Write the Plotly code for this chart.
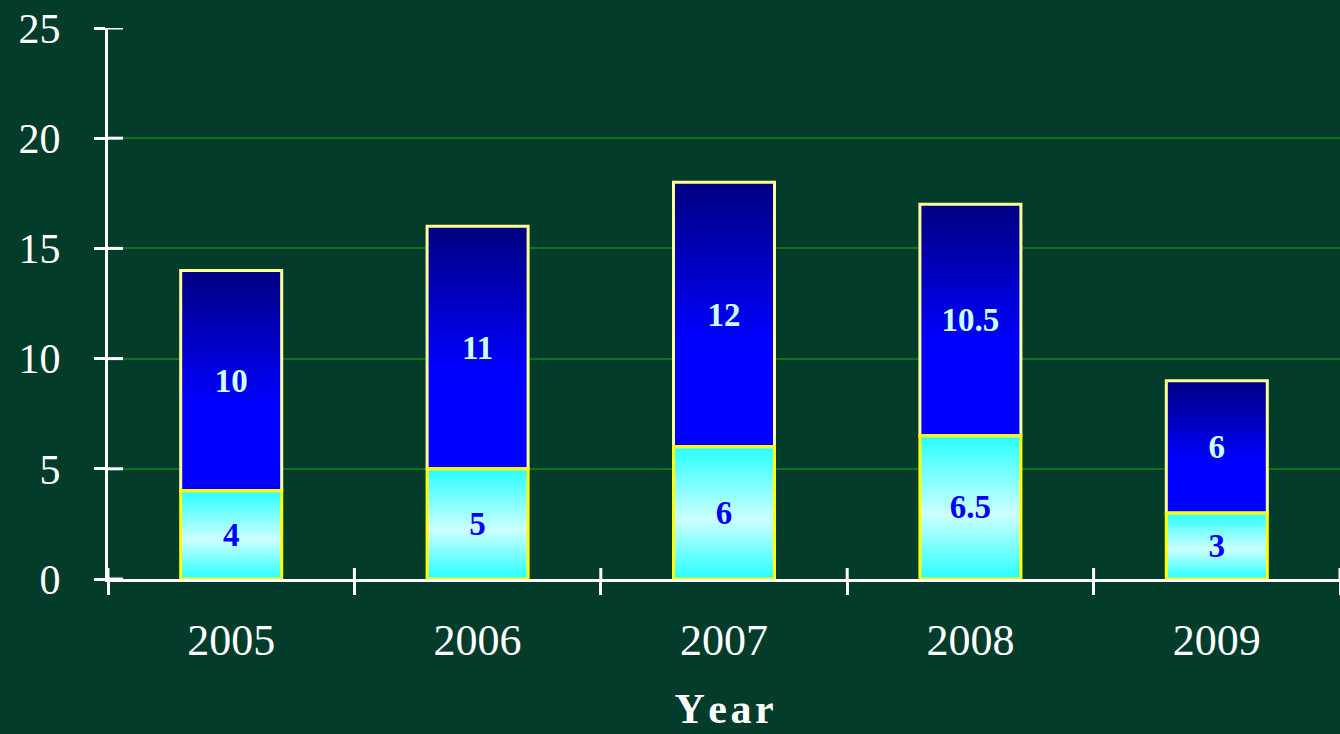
import plotly.graph_objects as go

# data
years = ['2005', '2006', '2007', '2008', '2009']
lower = [4, 5, 6, 6.5, 3]
upper = [10, 11, 12, 10.5, 6]
y_ticks = [0, 5, 10, 15, 20, 25]

BG = '#033c2a'
GRID = '#0a741a'
FONT = 'Liberation Serif'
N = 40  # slices used to fake the vertical gradient
BAR_W = 0.41

CYAN = (40, 255, 255)
PALE = (205, 255, 255)
BLUE = (0, 0, 255)
NAVY = (0, 0, 128)


def mix(c1, c2, f):
    return 'rgb(%d,%d,%d)' % tuple(round(a + (b - a) * f) for a, b in zip(c1, c2))


def lower_colour(t):
    # cyan at both ends, pale in the middle
    if t < 0.45:
        return mix(CYAN, PALE, t / 0.45)
    return mix(PALE, CYAN, (t - 0.45) / 0.55)


def upper_colour(t):
    # plain blue at the bottom fading to navy at the top
    if t < 0.4:
        return mix(BLUE, BLUE, 0)
    return mix(BLUE, NAVY, (t - 0.4) / 0.6)


fig = go.Figure()

# gradient slices, each running from its own base to the top of the segment
for bottoms, values, colour in [([0] * len(lower), lower, lower_colour),
                                (lower, upper, upper_colour)]:
    for k in range(N):
        t = (k + 0.5) / N
        fig.add_trace(go.Bar(
            x=years,
            y=[v * (1 - k / N) for v in values],
            base=[b + v * k / N for b, v in zip(bottoms, values)],
            width=BAR_W,
            marker=dict(color=colour(t), line=dict(width=0)),
            hoverinfo='skip',
            showlegend=False,
        ))

# outlines and labels
fig.add_trace(go.Bar(
    x=years, y=upper, base=lower, width=BAR_W,
    marker=dict(color='rgba(0,0,0,0)', line=dict(color='#ffff99', width=3)),
    text=[f'{v:g}' for v in upper],
    textposition='inside', insidetextanchor='middle', textangle=0,
    constraintext='none',
    textfont=dict(family=FONT, size=33, color='#ccffff', weight='bold'),
    showlegend=False,
))
fig.add_trace(go.Bar(
    x=years, y=lower, base=0, width=BAR_W,
    marker=dict(color='rgba(0,0,0,0)', line=dict(color='#ffff00', width=3)),
    text=[f'{v:g}' for v in lower],
    textposition='inside', insidetextanchor='middle', textangle=0,
    constraintext='none',
    textfont=dict(family=FONT, size=33, color='#0000ff', weight='bold'),
    showlegend=False,
))

# inner halves of the tick marks, so they cross the axis lines
tick_line = dict(color='white', width=3)
for v in y_ticks:
    fig.add_shape(type='line', xref='paper', yref='y', xsizemode='pixel',
                  xanchor=0, x0=0, x1=15, y0=v, y1=v, line=tick_line)
for i in range(len(years) + 1):
    fig.add_shape(type='line', xref='x', yref='y', ysizemode='pixel',
                  yanchor=0, y0=0, y1=11, x0=i - 0.5, x1=i - 0.5, line=tick_line)

fig.update_layout(
    width=1340, height=734,
    paper_bgcolor=BG, plot_bgcolor=BG,
    barmode='overlay',
    margin=dict(l=108, r=0, t=28, b=155),
    font=dict(family=FONT, color='white'),
    xaxis=dict(
        type='category', range=[-0.5, 4.5],
        showline=True, linecolor='white', linewidth=3,
        ticks='outside', tickson='boundaries', ticklen=13, tickwidth=3, tickcolor='white',
        tickfont=dict(size=44, color='white'),
        ticklabelstandoff=20,
        showgrid=False,
        title=dict(text='Y\u200ae\u200aa\u200ar',
                   font=dict(size=42, color='white', weight='bold'), standoff=30),
    ),
    yaxis=dict(
        range=[0, 25], tickvals=y_ticks,
        showline=True, linecolor='white', linewidth=3,
        ticks='outside', ticklen=11, tickwidth=3, tickcolor='white',
        tickfont=dict(size=42, color='white'),
        ticklabelstandoff=25,
        gridcolor=GRID, gridwidth=1.5, zeroline=False,
    ),
)

fig.write_html('out.html',
               config={'displayModeBar': False},
               post_script="document.body.style.margin='0';"
                           "document.body.style.background='%s';" % BG)
